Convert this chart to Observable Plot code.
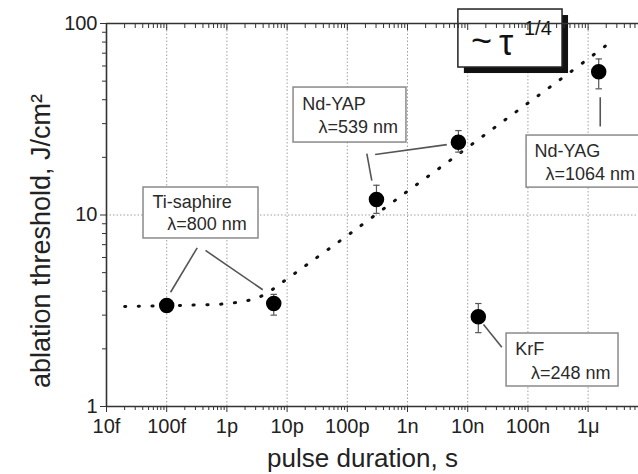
<!DOCTYPE html>
<html>
<head>
<meta charset="utf-8">
<script src="https://cdn.jsdelivr.net/npm/d3@7"></script>
<script src="https://cdn.jsdelivr.net/npm/@observablehq/plot@0.6"></script>
<style>
  html, body { margin: 0; padding: 0; background: white; overflow: hidden; }
</style>
</head>
<body>
<div id="chart"></div>
<script>
// ---- data ----
const lasers = ["Ti-saphire 100f", "Ti-saphire 6p", "Nd-YAP 300p", "Nd-YAP 7n", "KrF", "Nd-YAG"];
const pulseDuration = [1e-13, 6e-12, 3.05e-10, 7e-9, 1.5e-8, 1.5e-6];
const threshold = [3.37, 3.45, 12.05, 24.0, 2.94, 56];
const errLow = [3.15, 3.0, 10.2, 21.3, 2.43, 45.6];
const errHigh = [3.6, 3.85, 14.3, 27.6, 3.45, 65.3];

// dotted fit curve (~ tau^1/4)
const fitX = [2e-14, 1.53e-13, 1.15e-12, 3.1e-12, 5.16e-12, 8.4e-12, 2.36e-11, 1.06e-10, 7.9e-10, 5.97e-9, 4.53e-8, 3.39e-7, 2.57e-6];
const fitY = [3.33, 3.37, 3.46, 3.68, 4.0, 4.46, 5.63, 7.91, 12.6, 20.0, 32.0, 50.8, 81.5];

// axis ticks
const xTickValues = [1e-14, 1e-13, 1e-12, 1e-11, 1e-10, 1e-9, 1e-8, 1e-7, 1e-6];
const xTickLabels = ["10f", "100f", "1p", "10p", "100p", "1n", "10n", "100n", "1\u03bc"];
const yTickValues = [1, 10, 100];
const yTickLabels = ["1", "10", "100"];
const xGridValues = [1e-13, 1e-12, 1e-11, 1e-10, 1e-9, 1e-8, 1e-7, 1e-6];
const yGridValues = [10];

// annotation boxes
const boxX1 = [4.12e-14, 1.28e-11, 9.5e-8, 4.42e-8];
const boxX2 = [3.35e-12, 9.6e-10, 1.09e-5, 3.2e-6];
const boxY1 = [7.54, 23.9, 13.9, 1.272];
const boxY2 = [13.92, 46.3, 26.0, 2.405];

// annotation texts
const labelText = ["Ti-saphire", "\u03bb=800 nm", "Nd-YAP", "\u03bb=539 nm", "Nd-YAG", "\u03bb=1064 nm", "KrF", "\u03bb=248 nm"];
const labelX = [5.81e-14, 1.02e-13, 1.78e-11, 3.33e-11, 1.29e-7, 1.96e-7, 6.15e-8, 1.12e-7];
const labelY = [11.66, 9.0, 38.1, 28.7, 21.5, 16.3, 1.985, 1.50];

// leader lines
const leadX1 = [3.21e-13, 4.41e-13, 2.11e-10, 2.90e-10, 1.59e-6, 1.83e-8];
const leadY1 = [6.74, 6.53, 20.9, 20.7, 41.2, 2.68];
const leadX2 = [1.16e-13, 3.94e-12, 2.55e-10, 4.50e-9, 1.59e-6, 3.69e-8];
const leadY2 = [3.95, 4.07, 15.1, 23.3, 29.0, 2.04];

// tau box
const tauBox = {x1: 7.0e-9, x2: 3.76e-7, y1: 58.9, y2: 118.3};
const tauParts = ["~", "\u03c4", "1/4"];
const tauX = [1.13e-8, 3.3e-8, 8.6e-8];
const tauY = [80.5, 78.2, 93.5];
const tauSize = [36, 36, 20];

// ---- build tables ----
const points = lasers.map((l, i) => ({l, x: pulseDuration[i], y: threshold[i], lo: errLow[i], hi: errHigh[i]}));
const fit = fitX.map((x, i) => ({x, y: fitY[i]}));
const boxes = boxX1.map((x1, i) => ({x1, x2: boxX2[i], y1: boxY1[i], y2: boxY2[i]}));
const labels = labelText.map((t, i) => ({t, x: labelX[i], y: labelY[i]}));
const leads = leadX1.map((x1, i) => ({x1, y1: leadY1[i], x2: leadX2[i], y2: leadY2[i]}));
const taus = tauParts.map((t, i) => ({t, x: tauX[i], y: tauY[i], s: tauSize[i]}));

const minorX = [];
for (let e = -14; e <= -6; e++) for (let k = 2; k <= 9; k++) minorX.push(k * Math.pow(10, e));
const minorY = [];
for (let e = 0; e <= 1; e++) for (let k = 2; k <= 9; k++) minorY.push(k * Math.pow(10, e));

const capSymbol = {draw(ctx, size) { const r = 3.2; ctx.moveTo(-r, 0); ctx.lineTo(r, 0); }};
const fmtX = d => xTickLabels[xTickValues.findIndex(v => Math.abs(Math.log10(v) - Math.log10(d)) < 1e-6)];
const fmtY = d => yTickLabels[yTickValues.indexOf(d)];

const axisColor = "#333";
const textColor = "#222";

const chart = Plot.plot({
  width: 638,
  height: 474,
  marginLeft: 106,
  marginRight: 0,
  marginTop: 23,
  marginBottom: 68,
  style: {fontFamily: "'Liberation Sans', Arial, sans-serif", background: "white", color: textColor},
  x: {type: "log", domain: [1e-14, 6.87e-6]},
  y: {type: "log", domain: [1, 100]},
  marks: [
    Plot.gridX(xGridValues, {stroke: "#a0a0a0", strokeOpacity: 1, strokeDasharray: "1.5,2", strokeWidth: 1}),
    Plot.gridY(yGridValues, {stroke: "#a0a0a0", strokeOpacity: 1, strokeDasharray: "1.5,2", strokeWidth: 1}),
    Plot.line(fit, {x: "x", y: "y", curve: "catmull-rom", stroke: "#111", strokeWidth: 3, strokeLinecap: "round", strokeDasharray: "1.2,12.5"}),
    Plot.link(leads, {x1: "x1", y1: "y1", x2: "x2", y2: "y2", stroke: "#555", strokeWidth: 1.6}),
    Plot.rect(boxes, {x1: "x1", x2: "x2", y1: "y1", y2: "y2", fill: "white", stroke: "#8a8a8a", strokeWidth: 1.5}),
    Plot.text(labels, {x: "x", y: "y", text: "t", textAnchor: "start", fontSize: 18, fill: "#2a2a2a"}),
    // tau box with shadow
    Plot.rect([tauBox], {x1: "x1", x2: "x2", y1: "y1", y2: "y2", fill: "#111", dx: 6, dy: 6}),
    Plot.rect([tauBox], {x1: "x1", x2: "x2", y1: "y1", y2: "y2", fill: "white", stroke: "#222", strokeWidth: 1.5}),
    Plot.text(taus, {x: "x", y: "y", text: "t", fontSize: d => d.s, textAnchor: "start", fill: "#111"}),
    // error bars
    Plot.ruleX(points, {x: "x", y1: "lo", y2: "hi", stroke: "#555", strokeWidth: 1.2}),
    Plot.dot(points, {x: "x", y: "lo", symbol: capSymbol, stroke: "#555", strokeWidth: 1.2}),
    Plot.dot(points, {x: "x", y: "hi", symbol: capSymbol, stroke: "#555", strokeWidth: 1.2}),
    Plot.dot(points, {x: "x", y: "y", r: 7, fill: "#000", stroke: "#000"}),
    // axes
    Plot.axisX(minorX, {anchor: "bottom", tickSize: 4, text: null, stroke: axisColor, label: null}),
    Plot.axisX(xTickValues, {anchor: "bottom", tickSize: 6, tickPadding: 6, tickFormat: fmtX, fontSize: 20, stroke: axisColor, fill: textColor, label: null}),
    Plot.axisX(minorX, {anchor: "top", tickSize: -4, text: null, stroke: axisColor, label: null}),
    Plot.axisX(xTickValues, {anchor: "top", tickSize: -6, text: null, stroke: axisColor, label: null}),
    Plot.axisY(minorY, {anchor: "left", tickSize: 4, text: null, stroke: axisColor, label: null}),
    Plot.axisY(yTickValues, {anchor: "left", tickSize: 6, tickPadding: 3, tickFormat: fmtY, fontSize: 20, stroke: axisColor, fill: textColor, label: null}),
    Plot.ruleX([1e-14], {stroke: axisColor, strokeWidth: 1.6}),
    Plot.ruleY([1, 100], {stroke: axisColor, strokeWidth: 1.6}),
    // axis titles
    Plot.text(["pulse duration, s"], {frameAnchor: "bottom", textAnchor: "middle", lineAnchor: "middle", dx: -10, dy: 52.5, fontSize: 26, fill: textColor}),
    Plot.text(["ablation threshold, J/cm\u00b2"], {frameAnchor: "left", textAnchor: "middle", lineAnchor: "middle", dx: -65, dy: 26, rotate: -90, fontSize: 27, fill: textColor})
  ]
});
document.getElementById("chart").append(chart);
</script>
</body>
</html>
